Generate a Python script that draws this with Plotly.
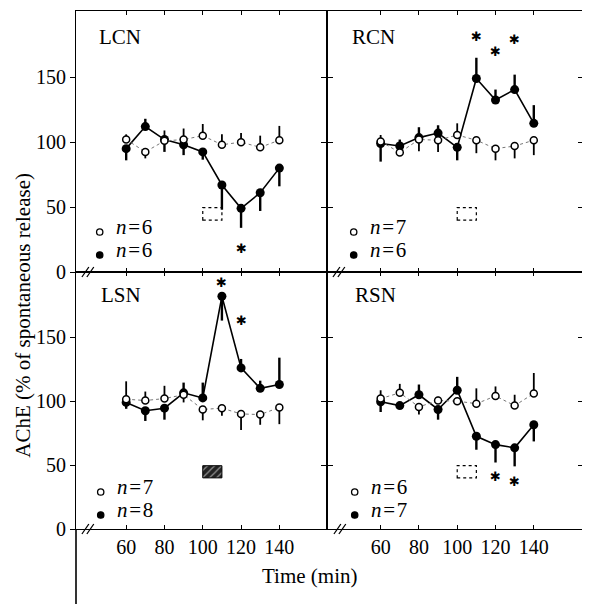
import plotly.graph_objects as go

# ---------------- data ----------------
time = [60, 70, 80, 90, 100, 110, 120, 130, 140]
x_ticks = [60, 80, 100, 120, 140]
y_ticks = [0, 50, 100, 150]
y_tick_labels = ["0", "50", "100", "150"]

panel_names = ["LCN", "RCN", "LSN", "RSN"]
n_ctrl = [6, 7, 7, 6]
n_drug = [6, 6, 8, 7]

lcn_ctrl = [102, 92.5, 101, 102, 105, 98, 100, 96, 101.5]
lcn_ctrl_up = [4, 0, 8, 8.5, 9, 8, 7, 9, 11]
lcn_ctrl_dn = [0, 5, 0, 0, 0, 0, 0, 0, 0]
lcn_drug = [95, 112, 102, 98, 92.5, 67, 49, 61, 80]
lcn_drug_up = [0, 6, 0, 0, 0, 0, 0, 0, 0]
lcn_drug_dn = [9, 0, 9.5, 8, 6, 19, 15, 14, 14]

rcn_ctrl = [100.5, 92, 102, 101.5, 105.5, 101.5, 95, 97, 101.5]
rcn_ctrl_up = [5, 3, 0, 0, 9, 0, 0, 0, 0]
rcn_ctrl_dn = [0, 0, 9, 9, 0, 10, 9, 9.5, 11.5]
rcn_drug = [99, 97, 103.5, 107, 96, 149, 132.5, 140.5, 114.5]
rcn_drug_up = [0, 5, 8, 6, 0, 16, 8, 11.5, 14]
rcn_drug_dn = [14, 0, 0, 0, 10, 0, 0, 0, 0]

lsn_ctrl = [101.5, 100.5, 102, 105, 93.5, 94.5, 90, 89.5, 95]
lsn_ctrl_up = [14, 7, 10, 0, 0, 0, 0, 0, 0]
lsn_ctrl_dn = [0, 0, 0, 6, 8.5, 6, 12.5, 8, 13]
lsn_drug = [99, 92.5, 94.5, 106.5, 102.5, 182, 126, 110, 113]
lsn_drug_up = [0, 0, 0, 8, 12, 0, 7, 6, 21]
lsn_drug_dn = [5, 8, 9, 0, 0, 19, 0, 0, 0]

rsn_ctrl = [102, 106.5, 95.5, 100.5, 100, 98, 104, 96.5, 106]
rsn_ctrl_up = [6.5, 7, 0, 3, 0, 12, 7.5, 8.5, 16]
rsn_ctrl_dn = [0, 0, 6, 0, 3, 0, 0, 0, 0]
rsn_drug = [99.5, 96.5, 105, 93.5, 108.5, 72.5, 66, 63.5, 81.5]
rsn_drug_up = [0, 0, 8, 0, 10.5, 0, 0, 0, 0]
rsn_drug_dn = [8, 0, 0, 8, 0, 10.5, 14, 14.5, 13]

# significance stars (time, value) per panel
stars_lcn = [(120, 18)]
stars_rcn = [(110, 181), (120, 170), (130, 179)]
stars_lsn = [(110, 193), (120, 163)]
stars_rsn = [(120, 41), (130, 37)]

# drug application period and marker box level
drug_start, drug_end = 100, 110
box_low, box_high = 40, 49.5

# ---------------- layout helpers ----------------
# page body has an 8px margin, so reference pixel positions are shifted by 8
OFF = 8
W_FIG, H_FIG = 590 - OFF, 604 - OFF
L, R, T, B = 76, 589, 11, 529          # reference pixel positions of plot area
PW, PH = R - L, B - T


def px(xp):
    return (xp - L) / PW


def py(yp):
    return (B - yp) / PH


XS = px(330)
YS = py(272)
FONT = "Liberation Serif, Times New Roman, serif"

panels = [
    dict(name="LCN", xa="x", ya="y", ctrl=(lcn_ctrl, lcn_ctrl_up, lcn_ctrl_dn),
         drug=(lcn_drug, lcn_drug_up, lcn_drug_dn), stars=stars_lcn, box="dash"),
    dict(name="RCN", xa="x2", ya="y2", ctrl=(rcn_ctrl, rcn_ctrl_up, rcn_ctrl_dn),
         drug=(rcn_drug, rcn_drug_up, rcn_drug_dn), stars=stars_rcn, box="dash"),
    dict(name="LSN", xa="x3", ya="y3", ctrl=(lsn_ctrl, lsn_ctrl_up, lsn_ctrl_dn),
         drug=(lsn_drug, lsn_drug_up, lsn_drug_dn), stars=stars_lsn, box="hatch"),
    dict(name="RSN", xa="x4", ya="y4", ctrl=(rsn_ctrl, rsn_ctrl_up, rsn_ctrl_dn),
         drug=(rsn_drug, rsn_drug_up, rsn_drug_dn), stars=stars_rsn, box="dash"),
]

fig = go.Figure()
annotations = []
shapes = []

for i, p in enumerate(panels):
    xa, ya = p["xa"], p["ya"]
    # drug marker box
    if p["box"] == "hatch":
        fig.add_trace(go.Bar(
            x=[(drug_start + drug_end) / 2], y=[box_high - box_low], base=[box_low],
            width=[drug_end - drug_start], xaxis=xa, yaxis=ya, showlegend=False,
            hoverinfo="skip",
            marker=dict(color="#222222", line=dict(color="black", width=1),
                        pattern=dict(shape="/", fgcolor="white", size=5,
                                     solidity=0.25, fillmode="overlay"))))
    else:
        shapes.append(dict(type="rect", xref=xa, yref=ya, x0=drug_start, x1=drug_end,
                           y0=box_low, y1=box_high,
                           line=dict(color="black", width=1.2, dash="dot")))
    d, dup, ddn = p["drug"]
    fig.add_trace(go.Scatter(
        x=time, y=d, xaxis=xa, yaxis=ya, mode="lines+markers", showlegend=False,
        line=dict(color="black", width=1.6),
        marker=dict(symbol="circle", size=9, color="black"),
        error_y=dict(type="data", symmetric=False, array=dup, arrayminus=ddn,
                     color="black", thickness=2.4, width=0)))
    c, cup, cdn = p["ctrl"]
    fig.add_trace(go.Scatter(
        x=time, y=c, xaxis=xa, yaxis=ya, mode="lines+markers", showlegend=False,
        line=dict(color="#777777", width=1, dash="dot"),
        marker=dict(symbol="circle", size=7, color="white",
                    line=dict(color="black", width=1.5)),
        error_y=dict(type="data", symmetric=False, array=cup, arrayminus=cdn,
                     color="black", thickness=1.8, width=0)))
    for (sx, sy) in p["stars"]:
        annotations.append(dict(x=sx, y=sy, xref=xa, yref=ya, text="\u2731",
                                showarrow=False, font=dict(family="DejaVu Sans", size=13,
                                                           color="black")))

# overlay axes for inward ticks on the right border
for ov, base_x in [("y5", "x2"), ("y6", "x4")]:
    fig.add_trace(go.Scatter(x=[None], y=[None], xaxis=base_x, yaxis=ov,
                             showlegend=False, hoverinfo="skip"))

# panel titles and legends
title_pos = [(97, 37), (353, 37), (99, 295), (356, 295)]
legend_pos = [(100, 229), (357, 229), (101, 489), (358, 489)]
row_gap = 23
for i, p in enumerate(panels):
    tx, ty = title_pos[i]
    annotations.append(dict(x=px(tx), y=py(ty), xref="paper", yref="paper",
                            text=panel_names[i], showarrow=False, xanchor="left",
                            yanchor="middle", font=dict(family=FONT, size=21, color="black")))
    lx, ly = legend_pos[i]
    for k, (nval, filled) in enumerate([(n_ctrl[i], False), (n_drug[i], True)]):
        yy = ly + k * row_gap
        r = 3.2
        shapes.append(dict(type="circle", xref="paper", yref="paper",
                           x0=px(lx - r), x1=px(lx + r), y0=py(yy + 3 + r), y1=py(yy + 3 - r),
                           fillcolor="black" if filled else "white",
                           line=dict(color="black", width=1.3)))
        annotations.append(dict(x=px(lx + 14), y=py(yy - 2), xref="paper", yref="paper",
                                text="<i>n</i>\u200a=\u200a" + str(nval), showarrow=False,
                                xanchor="left", yanchor="middle",
                                font=dict(family=FONT, size=21, color="black")))

# axis break marks (two slanted strokes across the axis)
for bx, by in [(82, 272), (336, 272), (82, 529), (337, 529)]:
    for k in range(2):
        shapes.append(dict(type="line", xref="paper", yref="paper",
                           x0=px(bx + 5 * k), y0=py(by + 5),
                           x1=px(bx + 7 + 5 * k), y1=py(by - 5),
                           line=dict(color="black", width=1.3)))

# axis titles
annotations.append(dict(x=px(22), y=py(315), xref="paper", yref="paper",
                        text="AChE (% of spontaneous release)", textangle=-90,
                        showarrow=False, xanchor="center", yanchor="middle",
                        font=dict(family=FONT, size=21, color="black")))
annotations.append(dict(x=px(312), y=py(576), xref="paper", yref="paper",
                        text="Time (min)", showarrow=False, xanchor="center",
                        yanchor="middle", font=dict(family=FONT, size=21, color="black")))

# extended left axis line below the panels
shapes.append(dict(type="line", xref="paper", yref="paper", x0=0, x1=0, y0=0,
                   y1=py(610), line=dict(color="black", width=1.6)))

tickfont = dict(family=FONT, size=20, color="black")
xr_left = [33.8, 164.9]
xr_right = [32.0, 165.7]
yr = [0, 201]
LW = 1.2

common_x = dict(showline=True, linecolor="black", linewidth=LW, mirror="ticks",
                ticks="inside", ticklen=4, tickwidth=1.3, tickcolor="black",
                tickvals=x_ticks, showgrid=False, zeroline=False, tickfont=tickfont)
common_y = dict(showline=True, linecolor="black", linewidth=LW, mirror="ticks",
                ticks="outside", ticklen=5, tickwidth=1.3, tickcolor="black",
                tickvals=y_ticks, ticktext=y_tick_labels, range=yr, showgrid=False,
                zeroline=False, tickfont=tickfont)

fig.update_layout(
    width=W_FIG, height=H_FIG,
    margin=dict(l=L - OFF, r=W_FIG - (R - OFF), t=T - OFF, b=H_FIG - (B - OFF), pad=0),
    paper_bgcolor="white", plot_bgcolor="white",
    showlegend=False, barmode="overlay",
    xaxis=dict(**common_x, domain=[0, XS], range=xr_left, anchor="y", showticklabels=False),
    xaxis2=dict(**common_x, domain=[XS, 1], range=xr_right, anchor="y2", showticklabels=False),
    xaxis3=dict(**common_x, domain=[0, XS], range=xr_left, anchor="y3"),
    xaxis4=dict(**common_x, domain=[XS, 1], range=xr_right, anchor="y4"),
    yaxis=dict(**common_y, domain=[YS, 1], anchor="x"),
    yaxis2=dict(**common_y, domain=[YS, 1], anchor="x2", showticklabels=False),
    yaxis3=dict(**common_y, domain=[0, YS], anchor="x3"),
    yaxis4=dict(**common_y, domain=[0, YS], anchor="x4", showticklabels=False),
    yaxis5=dict(overlaying="y2", anchor="x2", side="right", range=yr, tickvals=y_ticks,
                ticks="inside", ticklen=5, tickwidth=1.3, tickcolor="black",
                showline=False, showticklabels=False, showgrid=False, zeroline=False),
    yaxis6=dict(overlaying="y4", anchor="x4", side="right", range=yr, tickvals=y_ticks,
                ticks="inside", ticklen=5, tickwidth=1.3, tickcolor="black",
                showline=False, showticklabels=False, showgrid=False, zeroline=False),
    annotations=annotations,
    shapes=shapes,
)

fig.write_html("out.html")
